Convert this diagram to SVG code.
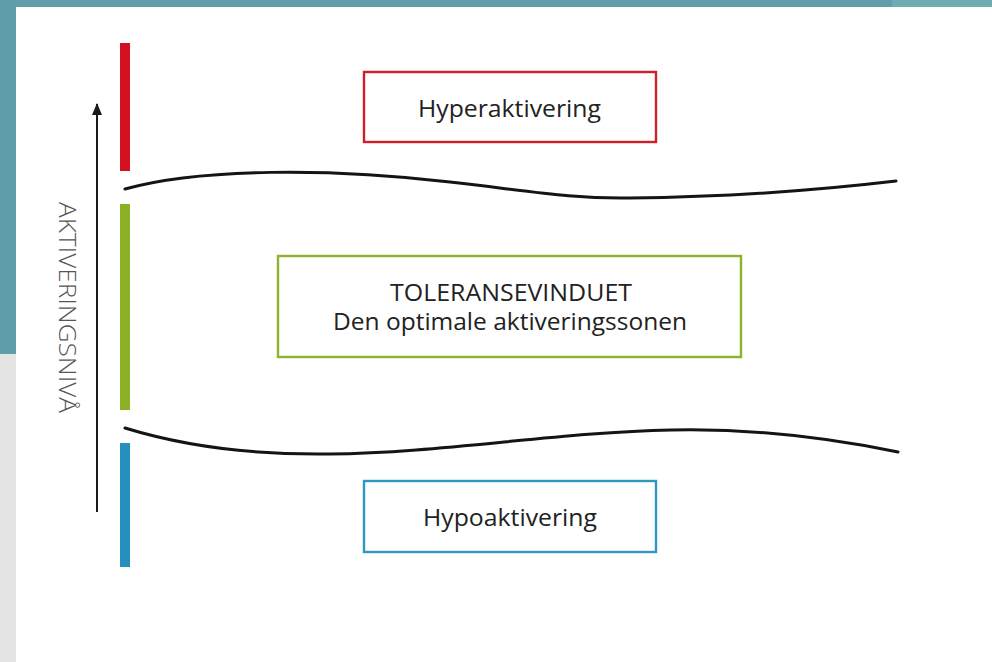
<svg xmlns="http://www.w3.org/2000/svg" width="992" height="662" viewBox="0 0 992 662">
  <style>
    .box { fill: #ffffff; stroke-width: 2.4; }
    .label { font-family: "Open Sans", "Liberation Sans", sans-serif; fill: #222222; text-anchor: middle; font-size: 23px; }
    .curve { fill: none; stroke: #141414; stroke-width: 3; stroke-linecap: round; }
    .bar { stroke: none; }
  </style>
  <defs>
    <marker id="arrowhead" viewBox="0 0 12 10" refX="11" refY="5" markerWidth="12" markerHeight="10" markerUnits="userSpaceOnUse" orient="auto">
      <path d="M0,0 L12,5 L0,10 Z" fill="#1a1a1a"/>
    </marker>
  </defs>

  <!-- page background: teal frame, grey strip, white panel -->
  <rect x="0" y="0" width="992" height="662" fill="#ffffff"/>
  <rect x="0" y="0" width="992" height="7" fill="#609fa9"/>
  <rect x="892" y="0" width="100" height="7" fill="#70aab2"/>
  <rect x="0" y="0" width="16" height="354" fill="#609fa9"/>
  <rect x="0" y="354" width="16" height="308" fill="#e4e4e4"/>

  <!-- level bars -->
  <g id="bars">
    <rect class="bar" x="120" y="43" width="10" height="128" fill="#d4121f"/>
    <rect class="bar" x="120" y="204" width="10" height="206" fill="#8db126"/>
    <rect class="bar" x="120" y="443" width="10" height="124" fill="#2490bb"/>
  </g>

  <!-- activation-level axis -->
  <g id="axis">
    <line x1="97" y1="512" x2="97" y2="104" stroke="#1a1a1a" stroke-width="2" marker-end="url(#arrowhead)"/>
    <text transform="translate(59,202) rotate(90)" font-family="'Open Sans', 'Liberation Sans', sans-serif" font-weight="300" font-size="23" fill="#555555" textLength="211" lengthAdjust="spacingAndGlyphs">AKTIVERINGSNIVÅ</text>
  </g>

  <!-- window boundaries -->
  <g id="connectors">
    <path class="curve" d="M125,189 C200,168 330,168 450,182 C530,191 570,199 630,198 C720,197 820,190 896,181"/>
    <path class="curve" d="M125,428 C190,448 260,455 330,454 C440,453 560,432 671,430 C760,428 840,440 898,452"/>
  </g>

  <g id="hyper">
    <rect class="box" x="364" y="72" width="292" height="70" stroke="#cf1f2c"/>
    <text class="label" x="509.5" y="117" textLength="183" lengthAdjust="spacingAndGlyphs">Hyperaktivering</text>
  </g>

  <g id="window">
    <rect class="box" x="278" y="256" width="463" height="101" stroke="#8db32b"/>
    <text class="label" x="511" y="301" textLength="242" lengthAdjust="spacingAndGlyphs">TOLERANSEVINDUET</text>
    <text class="label" x="510" y="330" textLength="354" lengthAdjust="spacingAndGlyphs">Den optimale aktiveringssonen</text>
  </g>

  <g id="hypo">
    <rect class="box" x="364" y="481" width="292" height="71" stroke="#2f98c0"/>
    <text class="label" x="510" y="526" textLength="174" lengthAdjust="spacingAndGlyphs">Hypoaktivering</text>
  </g>
</svg>
